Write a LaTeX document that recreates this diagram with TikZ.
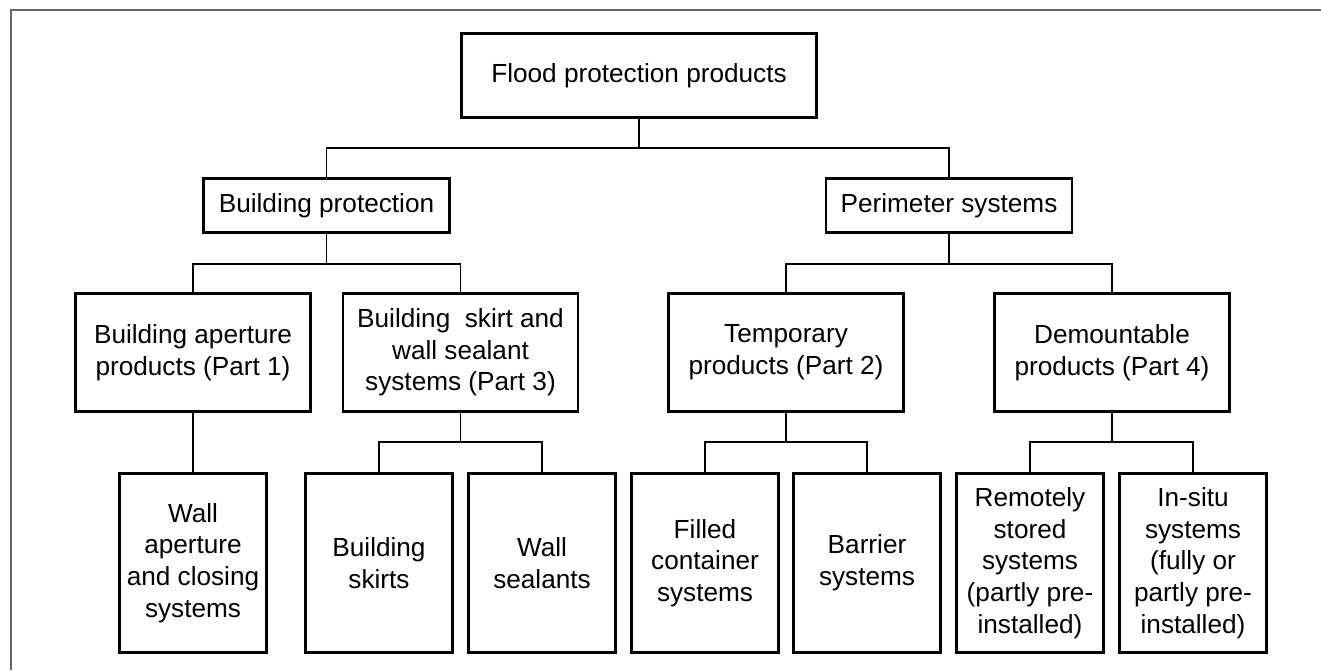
\documentclass[tikz,border=0pt]{standalone}
\usepackage{fontspec}
\setmainfont{Liberation Sans}
\begin{document}
\begin{tikzpicture}
			[x=0.02cm,y=-0.02cm,
			box/.style={draw,line width=1.3pt,align=center,inner sep=0pt,font=\fontsize{14.9}{18}\selectfont},
			rootbox/.style={box,minimum width=7.1cm,minimum height=1.68cm},
			groupbox/.style={box,minimum width=4.92cm,minimum height=1.08cm},
			partbox/.style={box,minimum width=4.7cm,minimum height=2.36cm},
			leafbox/.style={box,minimum width=2.94cm,minimum height=3.58cm},
			link/.style={line width=0.6pt}]
			\useasboundingbox(0,0)rectangle(1321,670);
			\draw[black!60,line width=1.1pt](11,670)--(11,10)--(1321,10);
			\node[rootbox,name=root]at(639,75.5){Flood protection products};
			\node[groupbox,name=bp]at(326.5,205.5){Building protection};
			\node[groupbox,name=ps]at(949,205.5){Perimeter systems};
			\node[partbox,name=ba]at(193,352.5){Building aperture\\products (Part 1)};
			\node[partbox,name=bs]at(460.5,352.5){Building\ \ skirt and\\wall sealant\\systems (Part 3)};
			\node[partbox,name=tp]at(786,352.5){Temporary\\products (Part 2)};
			\node[partbox,name=dp]at(1112,352.5){Demountable\\products (Part 4)};
			\node[leafbox,name=wa]at(193,563){Wall\\aperture\\and closing\\systems};
			\node[leafbox,name=sk]at(379,563){Building\\skirts};
			\node[leafbox,name=ws]at(542,563){Wall\\sealants};
			\node[leafbox,name=fc]at(705,563){Filled\\container\\systems};
			\node[leafbox,name=bb]at(867,563){Barrier\\systems};
			\node[leafbox,name=rs]at(1030,563){Remotely\\stored\\systems\\(partly pre-\\installed)};
			\node[leafbox,name=is]at(1193,563){In-situ\\systems\\(fully or\\partly pre-\\installed)};
			\coordinate(j0)at(639,148);
			\coordinate(j1)at(326.5,264);
			\coordinate(j2)at(949,264);
			\coordinate(j3)at(460.5,442);
			\coordinate(j4)at(786,442);
			\coordinate(j5)at(1112,442);
			\draw[link](root)--(j0);
			\draw[link](bp)|-(j0)-|(ps);
			\draw[link](bp)--(j1);
			\draw[link](ba)|-(j1)-|(bs);
			\draw[link](ps)--(j2);
			\draw[link](tp)|-(j2)-|(dp);
			\draw[link](ba)--(wa);
			\draw[link](bs)--(j3);
			\draw[link](sk)|-(j3)-|(ws);
			\draw[link](tp)--(j4);
			\draw[link](fc)|-(j4)-|(bb);
			\draw[link](dp)--(j5);
			\draw[link](rs)|-(j5)-|(is);
		\end{tikzpicture}
\end{document}
